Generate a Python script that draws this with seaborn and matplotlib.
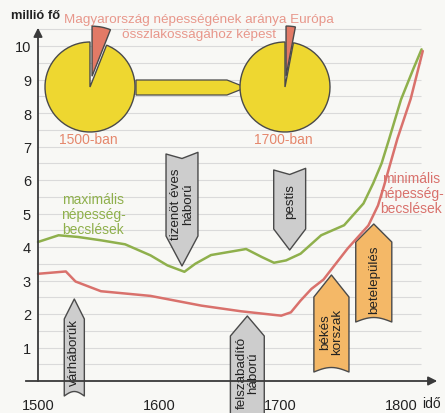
import matplotlib
matplotlib.use("Agg")
import matplotlib.pyplot as plt
import numpy as np
import pandas as pd
import seaborn as sns
from matplotlib.patches import Polygon

# ---------------- data ----------------
years_max = [1500, 1517, 1533, 1552, 1572, 1593, 1607, 1621, 1630, 1643, 1672, 1685, 1695,
             1705, 1717, 1734, 1753, 1769, 1777, 1784, 1790, 1800, 1810, 1817]
pop_max = [4.15, 4.35, 4.3, 4.2, 4.08, 3.75, 3.45, 3.26, 3.5, 3.76, 3.94, 3.7, 3.53,
           3.6, 3.8, 4.35, 4.65, 5.3, 5.9, 6.5, 7.2, 8.4, 9.3, 9.9]
years_min = [1500, 1523, 1531, 1552, 1593, 1635, 1668, 1701, 1709, 1717, 1726, 1736,
             1745, 1756, 1773, 1781, 1786, 1797, 1808, 1818]
pop_min = [3.2, 3.27, 2.97, 2.68, 2.54, 2.25, 2.08, 1.95, 2.05, 2.4, 2.75, 3.03,
           3.45, 3.96, 4.64, 5.24, 5.83, 7.23, 8.42, 9.85]

pie_labels = ["1500-ban", "1700-ban"]
pie_share = [6, 3]  # Hungary's share of Europe's population, %

event_labels = ["várháborúk", "tizenöt éves\nháború", "pestis",
                "felszabadító\nháború", "békés\nkorszak", "betelepülés"]
event_years = [1530, 1619, 1708, 1673, 1742.5, 1777.5]
event_kind = ["war", "war", "war", "war", "peace", "peace"]
event_dir = ["up", "down", "down", "up", "up", "up"]

y_ticks = [1, 2, 3, 4, 5, 6, 7, 8, 9, 10]
x_ticks = [1500, 1600, 1700, 1800]
x_minor = [1550, 1650, 1750]

# ------------- layout helpers (pixel -> data) -------------
W, H = 445, 414
X0, XS = 38, 1.21      # x pixel of 1500, pixels per year
Y0, YS = 382, 33.5     # y pixel of 0, pixels per unit


def X(px):
    return 1500 + (px - X0) / XS


def Y(py):
    return (Y0 - py) / YS


bg = "#f8f8f5"
axis_c = "#3a3a3a"
green = "#8fb04c"
red = "#d9716c"
salmon = "#e8978b"
pie_lbl = "#e5876c"

sns.set_style("white")
plt.rcParams["font.family"] = ["Liberation Sans", "DejaVu Sans"]

fig = plt.figure(figsize=(W / 100, H / 100), dpi=100)
fig.patch.set_facecolor(bg)
ax = fig.add_axes([0, 0, 1, 1])
ax.set_facecolor(bg)
ax.set_xlim(X(0), X(W))
ax.set_ylim(Y(H), Y(0))

# ruled paper lines
ax.hlines(np.arange(0.5, 11.0, 0.5), 1500, X(421), color="#dadada", lw=0.8, zorder=0)

# ------------- event banners -------------
banner_hw = [8.3, 13.2, 13.2, 14.0, 14.5, 14.9]
banner_base = [Y(397), Y(155), Y(171), -1.6, Y(373), Y(323)]
banner_shoulder = [Y(320), Y(237), Y(230), Y(337), Y(298), Y(243)]
banner_tip = [Y(300), Y(267), Y(251), Y(317), Y(276), Y(225)]
banner_text_y = [Y(353), Y(204), Y(202), Y(373), Y(332), Y(280)]
kind_fc = {"war": "#cdcdcd", "peace": "#f4b867"}

for lab, xc, kind, d, hw, b, s, t, ty in zip(event_labels, event_years, event_kind, event_dir,
                                              banner_hw, banner_base, banner_shoulder,
                                              banner_tip, banner_text_y):
    notch = 4.5 / YS
    if d == "up":
        pts = [(xc - hw, b), (xc - hw, s), (xc, t), (xc + hw, s), (xc + hw, b)]
        tt = np.linspace(0, 1, 15)
        pts += [(xc + hw - 2 * hw * u, b + notch * np.sin(np.pi * u)) for u in tt]
    else:
        pts = [(xc - hw, b), (xc - hw, s), (xc, t), (xc + hw, s), (xc + hw, b + 0.05),
               (xc, b - notch)]
    ax.add_patch(Polygon(pts, closed=True, fc=kind_fc[kind], ec="#4a4a4a", lw=1.0,
                         zorder=3, joinstyle="round"))
    ax.text(xc, ty, lab, rotation=90, ha="center", va="center", fontsize=9.6,
            color="#222222", linespacing=0.95, multialignment="center", zorder=4)

# ------------- population lines -------------
df_max = pd.DataFrame({"év": years_max, "népesség": pop_max})
df_min = pd.DataFrame({"év": years_min, "népesség": pop_min})
sns.lineplot(data=df_max, x="év", y="népesség", ax=ax, color=green, lw=1.8,
             zorder=5, estimator=None, sort=False)
sns.lineplot(data=df_min, x="év", y="népesség", ax=ax, color=red, lw=1.8,
             zorder=5, estimator=None, sort=False)
ax.set_xlim(X(0), X(W))
ax.set_ylim(Y(H), Y(0))
ax.set_xlabel("")
ax.set_ylabel("")

# ------------- axes -------------
for sp in ["top", "right"]:
    ax.spines[sp].set_visible(False)
ax.spines["left"].set_position(("data", 1500))
ax.spines["bottom"].set_position(("data", 0))
ax.spines["left"].set_bounds(0, Y(36))
ax.spines["bottom"].set_bounds(X(26), X(430))
for sp in ["left", "bottom"]:
    ax.spines[sp].set_color(axis_c)
    ax.spines[sp].set_linewidth(1.3)
    ax.spines[sp].set_zorder(6)

ax.set_yticks(y_ticks)
ax.set_yticklabels([str(v) for v in y_ticks])
ax.set_xticks(x_ticks)
ax.set_xticklabels([str(v) for v in x_ticks])
ax.set_xticks(x_minor, minor=True)
ax.tick_params(axis="y", direction="inout", length=8, width=1.2, color=axis_c,
               labelsize=10.5, pad=1, labelcolor="#222222")
ax.tick_params(axis="x", which="both", direction="inout", length=14, width=1.2,
               color=axis_c, labelsize=10.5, pad=5, labelcolor="#222222")

ax.annotate("", xy=(1500, Y(26)), xytext=(1500, Y(40)),
            arrowprops=dict(arrowstyle="-|>", color=axis_c, lw=1.3, mutation_scale=13),
            zorder=6, annotation_clip=False)
ax.annotate("", xy=(X(440), 0), xytext=(X(425), 0),
            arrowprops=dict(arrowstyle="-|>", color=axis_c, lw=1.3, mutation_scale=13),
            zorder=6, annotation_clip=False)

ax.text(X(11), Y(16), "millió fő", ha="left", va="center", fontsize=9.3,
        fontweight="bold", color="#222222")
ax.text(X(431), Y(404), "idő", ha="center", va="center", fontsize=10, color="#222222")

# ------------- labels -------------
ax.text(X(199), Y(20), "Magyarország népességének aránya Európa", ha="center",
        va="center", fontsize=9.7, color=salmon)
ax.text(X(199), Y(35), "összlakosságához képest", ha="center", va="center",
        fontsize=9.7, color=salmon)

ax.text(X(93), Y(215), "maximális\nnépesség-\nbecslések", ha="center", va="center",
        fontsize=10, color=green, linespacing=1.05)
ax.text(X(411), Y(194), "minimális\nnépesség-\nbecslések", ha="center", va="center",
        fontsize=10, color=red, linespacing=1.05)

# connecting arrow between the pies
arrow_px = [(136, 81), (227, 81), (246, 88.5), (227, 96), (136, 96)]
ax.add_patch(Polygon([(X(a), Y(b)) for a, b in arrow_px], closed=True, fc="#eed730",
                     ec="#4a4a4a", lw=0.9, zorder=2))

# ------------- pies -------------
pie_cx = [90, 285]
pie_cy = 88
for lab, share, cx in zip(pie_labels, pie_share, pie_cx):
    box = 130
    pax = fig.add_axes([(cx - box / 2) / W, 1 - (pie_cy + box / 2) / H, box / W, box / H])
    wedges, _ = pax.pie([share, 100 - share], colors=["#e27a66", "#eed730"], startangle=90,
                        counterclock=False, radius=45, explode=[11, 0],
                        wedgeprops=dict(edgecolor="#4a4a4a", linewidth=1.0))
    wedges[0].set_radius(50)
    pax.set_xlim(-box / 2, box / 2)
    pax.set_ylim(-box / 2, box / 2)
    pax.set_aspect("equal")
    pax.axis("off")
    ax.text(X(cx - 2), Y(140), lab, ha="center", va="center", fontsize=10, color=pie_lbl)

fig.savefig("out.png", dpi=100, facecolor=bg)
